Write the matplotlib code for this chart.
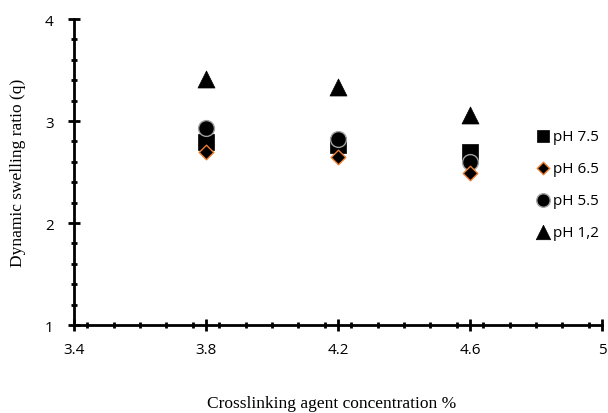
import matplotlib
matplotlib.use("Agg")
import matplotlib.pyplot as plt
from matplotlib.ticker import MultipleLocator

x = [3.8, 4.2, 4.6]
ph75 = [2.79, 2.76, 2.70]
ph65 = [2.70, 2.65, 2.49]
ph55 = [2.93, 2.82, 2.60]
ph12 = [3.41, 3.33, 3.06]
labels = ["pH 7.5", "pH 6.5", "pH 5.5", "pH 1,2"]

fig = plt.figure(figsize=(6.08, 4.14), dpi=100)
ax = fig.add_axes([74/608, 1-326/414, (602-74)/608, (326-20)/414])

ax.scatter(x, ph75, marker='s', s=120, c='black', edgecolors='black', linewidths=0.5, label=labels[0], zorder=3)
ax.scatter(x, ph65, marker='D', s=55, c='black', edgecolors='#ED7D31', linewidths=1.0, label=labels[1], zorder=4)
ax.scatter(x, ph55, marker='o', s=130, c='black', edgecolors='#A0A0A0', linewidths=1.0, label=labels[2], zorder=3.5)
ax.scatter(x, ph12, marker='^', s=150, c='black', edgecolors='black', linewidths=0.5, label=labels[3], zorder=3)

ax.set_xlim(3.4, 5.0)
ax.set_ylim(1, 4)
ax.xaxis.set_minor_locator(MultipleLocator(0.08))
ax.yaxis.set_minor_locator(MultipleLocator(0.2))
ax.set_xticks([3.4, 3.8, 4.2, 4.6, 5.0])
ax.set_xticklabels(["3.4", "3.8", "4.2", "4.6", "5"])
ax.set_yticks([1, 2, 3, 4])
ax.set_yticklabels(["1", "2", "3", "4"])

for s in ['top', 'right']:
    ax.spines[s].set_visible(False)
for s in ['left', 'bottom']:
    ax.spines[s].set_linewidth(2)
ax.tick_params(which='major', direction='inout', length=9, width=2, labelsize=11, pad=4)
ax.tick_params(which='minor', direction='inout', length=5, width=2)
for lab in ax.get_xticklabels() + ax.get_yticklabels():
    lab.set_fontfamily('Open Sans')
ax.tick_params(axis='x', pad=8)
ax.tick_params(axis='y', pad=10)

fig.text(332/608, 1-404/414, "Crosslinking agent concentration %", family='Liberation Serif',
         fontsize=12.5, ha='center', va='center')
ax.set_ylabel("Dynamic swelling ratio (q)", family='Liberation Serif', fontsize=12.5, labelpad=14)

leg = ax.legend(loc='upper left', bbox_to_anchor=((527-74)/528, (326-124)/306), frameon=False,
                prop={'family': 'Open Sans', 'size': 11}, handletextpad=0.0, labelspacing=1.1,
                borderaxespad=0, handlelength=1.3, markerscale=0.85)

fig.savefig("out.png", dpi=100)
